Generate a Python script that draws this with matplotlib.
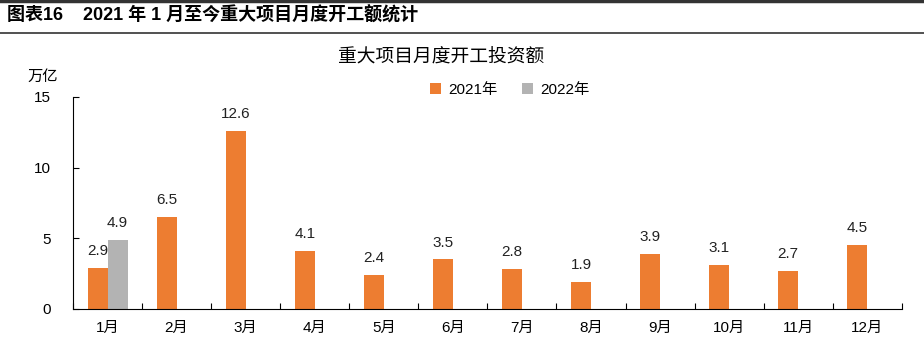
import numpy as np
import matplotlib
matplotlib.use('Agg')
import matplotlib.pyplot as plt
from matplotlib.lines import Line2D

plt.rcParams['font.family'] = ['Liberation Sans', 'Noto Sans CJK SC']

months = ['1月', '2月', '3月', '4月', '5月', '6月', '7月', '8月', '9月', '10月', '11月', '12月']
v2021 = [2.9, 6.5, 12.6, 4.1, 2.4, 3.5, 2.8, 1.9, 3.9, 3.1, 2.7, 4.5]
v2022 = [4.9]

c21 = '#ED7D31'
c22 = '#B3B3B3'

fig = plt.figure(figsize=(9.24, 3.51), dpi=100)
ax = fig.add_axes([0.079, 0.12, 0.897, 0.604])

x = np.arange(len(months))
w = 0.29
b1 = ax.bar(x - w/2, v2021, w, color=c21, label='2021年')
b2 = ax.bar(x[:len(v2022)] + w/2, v2022, w, color=c22, label='2022年')

for xi, v in zip(x - w/2, v2021):
    ax.text(xi, v + 0.7, f'{v:.1f}', ha='center', va='bottom', fontsize=11, color='#222222')
for xi, v in zip(x[:len(v2022)] + w/2, v2022):
    ax.text(xi, v + 0.7, f'{v:.1f}', ha='center', va='bottom', fontsize=11, color='#222222')

ax.set_xlim(-0.5, len(months) - 0.5)
ax.set_ylim(0, 15)
ax.set_yticks([0, 5, 10, 15])
ax.set_xticks(np.arange(-0.5, len(months)), minor=False)
ax.set_xticklabels([])
ax.set_xticks(x, minor=True)
ax.set_xticklabels(months, minor=True, fontsize=11)
ax.tick_params(axis='x', which='major', direction='in', length=4)
ax.tick_params(axis='x', which='minor', length=0, pad=9)
ax.tick_params(axis='y', direction='in', length=4, labelsize=11, pad=16)
for s in ['top', 'right']:
    ax.spines[s].set_visible(False)

ax.text(-0.037, 1.095, '万亿', transform=ax.transAxes, fontsize=11, ha='center', va='center')

fig.text(0.477, 0.835, '重大项目月度开工投资额', ha='center', va='center', fontsize=13.5)
fig.legend(handles=[b1, b2], loc='center', bbox_to_anchor=(0.552, 0.745), ncol=2,
           frameon=False, fontsize=11, handlelength=0.7, handleheight=0.7,
           columnspacing=1.6, handletextpad=0.5)

fig.text(0.008, 0.955, '图表16    2021 年 1 月至今重大项目月度开工额统计', ha='left', va='center',
         fontsize=13, fontweight='bold')
fig.add_artist(Line2D([0, 1], [0.997, 0.997], color='#333333', lw=2.5))
fig.add_artist(Line2D([0, 1], [0.907, 0.907], color='#333333', lw=1.2))

fig.savefig('out.png', dpi=100)
